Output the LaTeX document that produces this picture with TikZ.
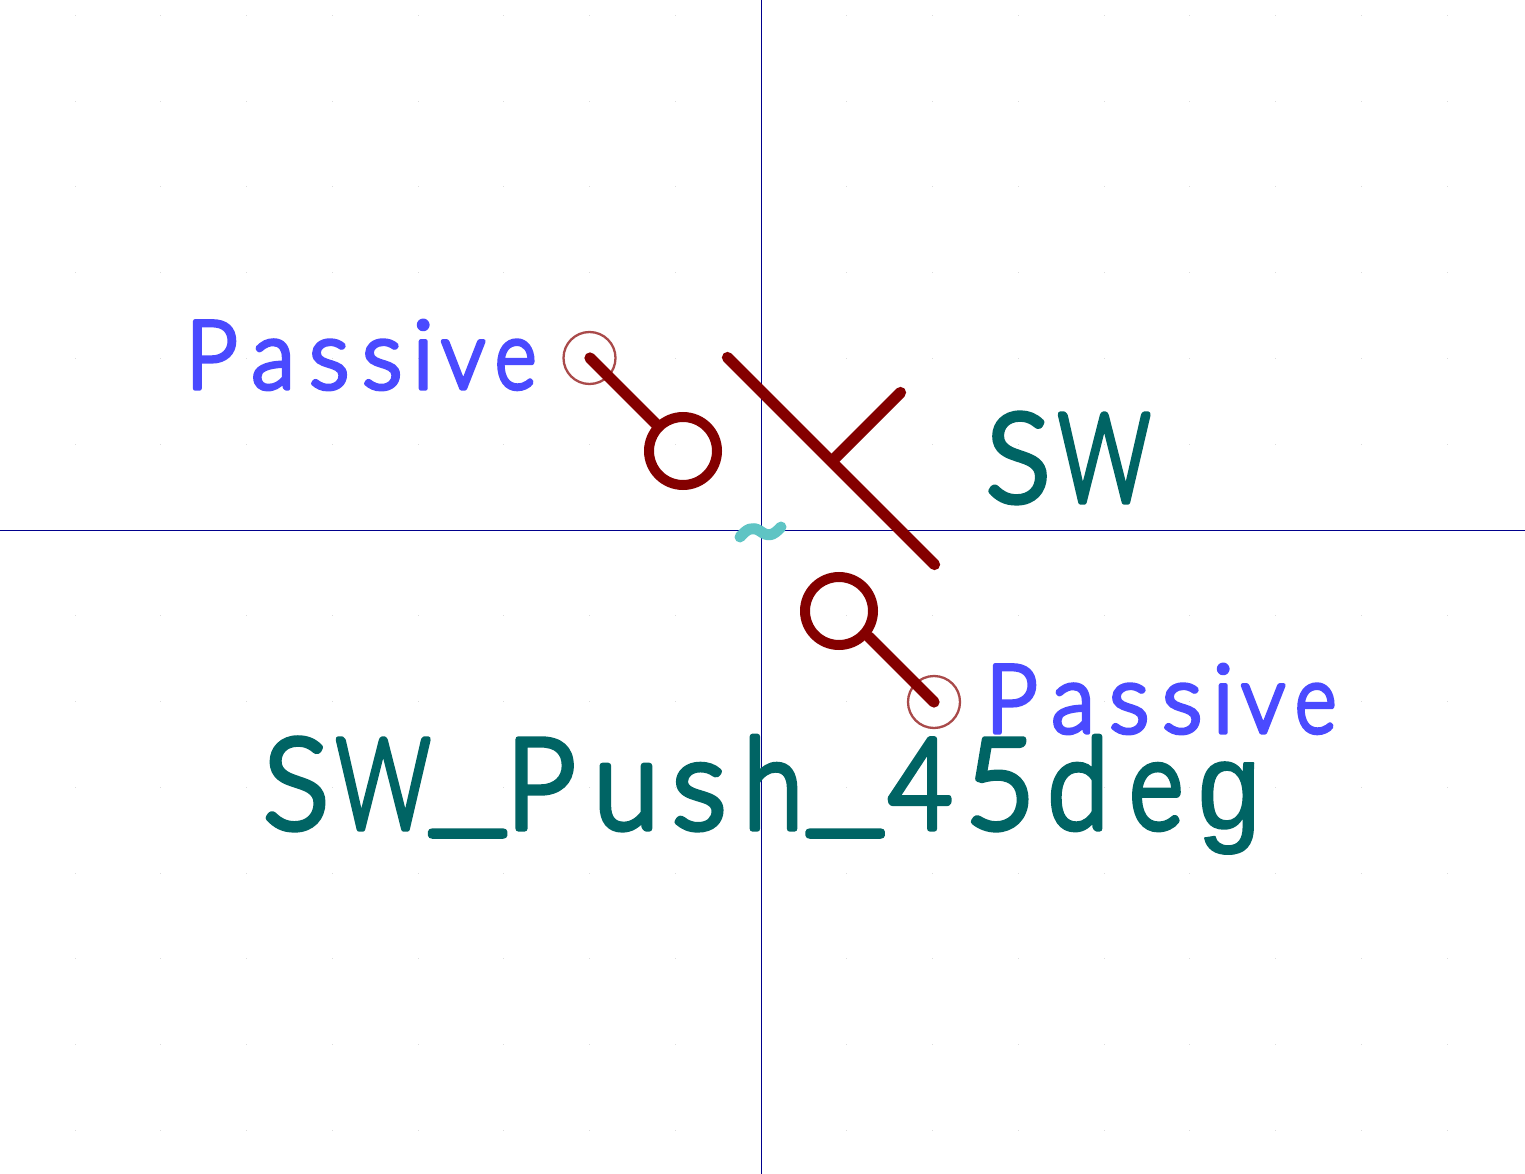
\documentclass[tikz,border=0pt]{standalone}
\usepackage{graphicx}
\usepackage{fontspec}
\setmainfont{Lato Light}
\newfontfamily\gfont{Liberation Sans}
\definecolor{symred}{HTML}{840000}
\definecolor{pinred}{HTML}{A94A4A}
\definecolor{pinblue}{HTML}{4A4AFF}
\definecolor{fieldteal}{HTML}{006464}
\definecolor{axisblue}{HTML}{00008B}
\definecolor{tildecyan}{HTML}{5FC4C4}
\definecolor{griddot}{HTML}{DCDCDC}
% letter #3 centred at #2pt from the left of the line, x-scaled by #1
\newcommand{\ct}[3][1]{\hbox to 0pt{\hskip #2pt\hbox to 0pt{\hss\scalebox{#1}[1]{#3}\hss}\hss}}
\newcommand{\strokeon}[1]{\special{pdf:code 2 Tr #1 w 1 j 1 J}}
\newcommand{\strokeoff}{\special{pdf:code 0 Tr}}
\newcommand{\lowbar}{\raisebox{10pt}{\_}}
\newcommand{\singleg}{{\gfont\fontsize{124}{124}\selectfont\strokeon{1.5}g\strokeon{6.2}}}
\tikzset{
  symline/.style={draw=symred,line width=11.3pt,line cap=round},
  symcircle/.style={draw=symred,line width=10pt,circle,minimum size=68pt,inner sep=0pt},
  pinmark/.style={draw=pinred,line width=2.3pt,circle,minimum size=52pt,inner sep=0pt},
  axis/.style={draw=axisblue,line width=1pt},
  pintext/.style={inner sep=0pt,anchor=base west,text=pinblue},
  fieldtext/.style={inner sep=0pt,anchor=base west,text=fieldteal},
}
\newcommand{\passive}{\fontsize{95}{95}\selectfont\strokeon{4.4}\hbox to 346pt{%
  \ct[.95]{21.5}{P}\ct[.95]{83}{a}\ct[1]{139}{s}\ct[1]{192}{s}\ct{233}{i}\ct[.93]{273}{v}\ct[.84]{325.5}{e}\hss}\strokeoff}
\begin{document}
\begin{tikzpicture}[x=1pt,y=-1pt]
\useasboundingbox (0,0) rectangle (1525,1174);
\fill[white] (0,0) rectangle (1525,1174);
\foreach \i in {-8,...,8} \foreach \j in {-6,...,7}
  \fill[griddot] ({761+85.75*\i-0.5},{530+85.75*\j-0.5}) rectangle +(1,1);
\coordinate (axT) at (761,0); \coordinate (axB) at (761,1174);
\coordinate (axL) at (0,530); \coordinate (axR) at (1525,530);
\draw[axis] (axT) -- (axB);
\draw[axis] (axL) -- (axR);
\node[pinmark] (pinA) at (589.5,358) {};
\node[pinmark] (pinB) at (934,702) {};
\node[symcircle] (circA) at (683,451) {};
\node[symcircle] (circB) at (839,611) {};
\coordinate (pinAc) at (590,358);
\coordinate (pinAe) at (657,425);
\coordinate (pinBc) at (934,702);
\coordinate (pinBe) at (869,637);
\coordinate (barS) at (727.5,357.5);
\coordinate (barE) at (934.5,564.5);
\coordinate (barM) at (832,461);
\coordinate (barT) at (900.5,392.5);
\draw[symline] (pinAc) -- (pinAe);
\draw[symline] (pinBc) -- (pinBe);
\draw[symline] (barS) -- (barE);
\draw[symline] (barM) -- (barT);
\coordinate (tilA) at (740,537);
\coordinate (tilB) at (781,527);
\draw[tildecyan,line width=11pt,line cap=round,line join=round] (tilA) .. controls (747,529) and (752,526) .. (760,531) .. controls (768,537) and (773,536) .. (tilB);
\node[pintext] (passiveA) at (190,388.5) {\passive};
\node[pintext] (passiveB) at (990,732.5) {\passive};
\node[fieldtext] (ref) at (985,501.5) {\fontsize{123}{123}\selectfont\strokeon{6.2}\hbox to 166pt{\ct[.98]{33}{S}\ct[.74]{119}{W}\hss}\strokeoff};
\node[fieldtext] (val) at (265,828.5) {\fontsize{126}{126}\selectfont\strokeon{6.2}\hbox to 993pt{%
  \ct[.98]{31}{S}\ct[.74]{118}{W}\ct[1.42]{202.5}{\lowbar}\ct[.96]{275.5}{P}\ct[.95]{361}{u}\ct[1.02]{434}{s}\ct[.86]{508}{h}\ct[1.42]{580}{\lowbar}\ct[.88]{655}{4}\ct[.96]{735}{5}\ct[.88]{813}{d}\ct[.82]{891}{e}\ct[.92]{964}{\singleg}\hss}\strokeoff};
\end{tikzpicture}
\end{document}
